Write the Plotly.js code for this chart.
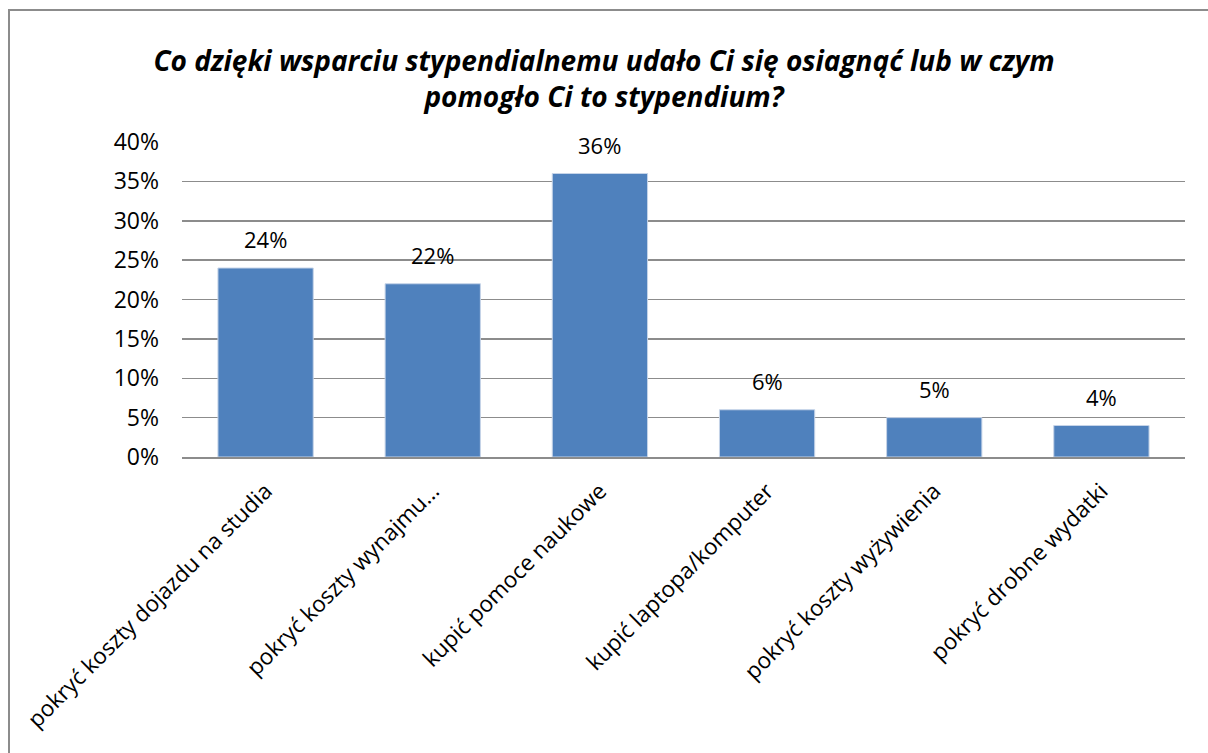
<!DOCTYPE html>
<html>
<head>
<meta charset="utf-8">
<script src="https://cdn.plot.ly/plotly-3.0.1.min.js"></script>
<style>
html,body{margin:0;padding:0;background:#fff;overflow:hidden;}
#frame{position:absolute;left:8px;top:9px;width:1210px;height:760px;border:2px solid #8c8c8c;box-sizing:border-box;}
#chart{position:absolute;left:0;top:0;width:1208px;height:753px;}
</style>
</head>
<body>
<div id="frame"></div>
<div id="chart"></div>
<script>
const categories = [
  "pokryć koszty dojazdu na studia",
  "pokryć koszty wynajmu…",
  "kupić pomoce naukowe",
  "kupić laptopa/komputer",
  "pokryć koszty wyżywienia",
  "pokryć drobne wydatki"
];
const values = [0.24, 0.22, 0.36, 0.06, 0.05, 0.04];
const tickVals = [0, 0.05, 0.10, 0.15, 0.20, 0.25, 0.30, 0.35, 0.40];
const tickText = ["0%", "5%", "10%", "15%", "20%", "25%", "30%", "35%", "40%"];
const titleText = "Co dzięki wsparciu stypendialnemu udało Ci się osiagnąć lub w czym<br>pomogło Ci to stypendium?";

const font = "'Open Sans', 'Noto Sans', sans-serif";

const trace = {
  type: "bar",
  x: categories,
  y: values,
  marker: {color: "#4F81BD", line: {color: "#c6d4e8", width: 1}},
  hoverinfo: "none"
};

const annotations = categories.map((c, i) => ({
  x: c,
  y: values[i],
  xref: "x",
  yref: "y",
  text: Math.round(values[i] * 100) + "%",
  showarrow: false,
  yanchor: "bottom",
  yshift: 12,
  font: {family: font, size: 22, color: "#000"}
}));

const layout = {
  width: 1208,
  height: 753,
  paper_bgcolor: "rgba(0,0,0,0)",
  plot_bgcolor: "rgba(0,0,0,0)",
  margin: {l: 182, r: 23, t: 142, b: 296},
  bargap: 0.43,
  showlegend: false,
  annotations: annotations,
  title: {
    text: "<b><i>" + titleText + "</i></b>",
    font: {family: font, size: 28, color: "#000"},
    x: 0.5, xanchor: "center",
    y: 1 - 71/753, yanchor: "middle",
    yref: "container"
  },
  xaxis: {
    tickangle: -45,
    tickfont: {family: font, size: 22.5, color: "#000"},
    ticklabelstandoff: 10,
    showline: true,
    linecolor: "#8c8c8c",
    linewidth: 2,
    ticks: "",
    showgrid: false,
    fixedrange: true
  },
  yaxis: {
    range: [0, 0.40],
    tickvals: tickVals,
    ticktext: tickText,
    tickfont: {family: font, size: 23, color: "#000"},
    ticklabelstandoff: 22,
    showgrid: true,
    gridcolor: "#8c8c8c",
    gridwidth: 1.5,
    zeroline: false,
    showline: false,
    ticks: "",
    ticklen: 0,
    fixedrange: true
  }
};

Plotly.newPlot("chart", [trace], layout, {displayModeBar: false, staticPlot: true});
</script>
</body>
</html>
